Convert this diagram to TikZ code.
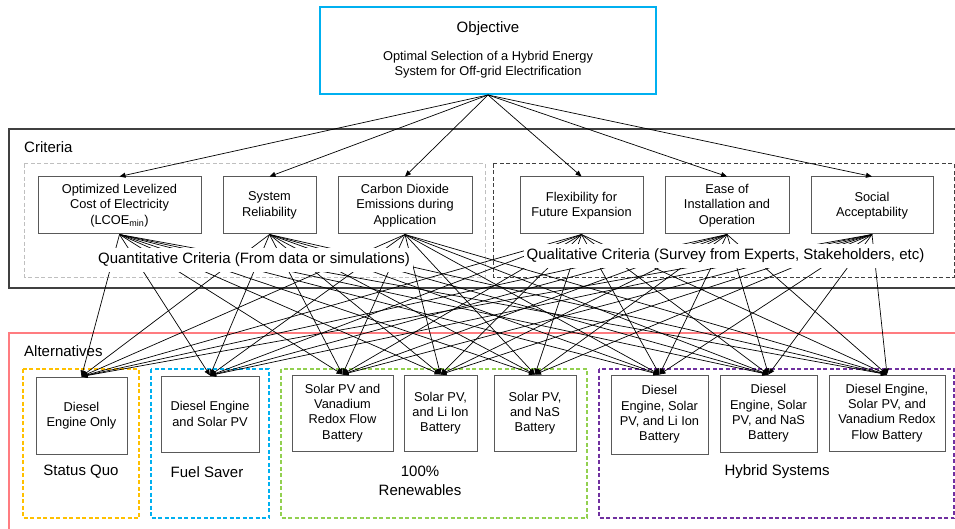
\documentclass[tikz,border=0pt]{standalone}
\usepackage{fontspec}
\setmainfont{Liberation Sans}
\usetikzlibrary{arrows.meta}
\definecolor{objblue}{HTML}{00B0F0}
\definecolor{framegray}{HTML}{404040}
\definecolor{lightdash}{HTML}{BFBFBF}
\definecolor{boxgray}{HTML}{595959}
\definecolor{altred}{HTML}{FF7C80}
\definecolor{sqorange}{HTML}{FFC000}
\definecolor{fsblue}{HTML}{00B0F0}
\definecolor{rngreen}{HTML}{92D050}
\definecolor{hypurple}{HTML}{7030A0}
\begin{document}
\begin{tikzpicture}[x=1pt,y=-1pt,
  boxtext/.style={font=\fontsize{12.8}{15.3}\selectfont, align=center},
  cbox/.style={draw=boxgray, line width=1pt, boxtext, inner sep=2pt},
  abox/.style={draw=boxgray, line width=1pt, boxtext, inner sep=2pt},
  biglabel/.style={font=\fontsize{15}{18}\selectfont, align=center},
  frame/.style={line width=2pt},
  grp/.style={line width=1.4pt, dash pattern=on 4pt off 2.5pt},
  conn/.style={line width=0.7pt, black, -{Triangle[length=6pt,width=5pt]}},
]
\useasboundingbox (0,0) rectangle (955,529);
\clip (0,0) rectangle (955,529);

% Objective
\node[draw=objblue, line width=2pt, minimum width=336, minimum height=87] (obj) at (488,50.5) {};
\node[font=\fontsize{15}{18}\selectfont] (objt) at (488,29) {Objective};
\node[boxtext] (objs) at (488,64.5) {Optimal Selection of a Hybrid Energy\\System for Off-grid Electrification};

% Criteria frame
\draw[frame, draw=framegray] (9,129) rectangle (965,288);
\node[biglabel, anchor=west, inner sep=0] (crit) at (24,147) {Criteria};
\draw[line width=1pt, draw=lightdash, dash pattern=on 4pt off 2.5pt] (24,164) rectangle (485,277);
\draw[line width=1pt, draw=framegray, dash pattern=on 4pt off 2.5pt] (493,164) rectangle (954,277);

% Criteria boxes
\node[cbox, minimum width=163, minimum height=57] (c1) at (119.5,205.5) {Optimized Levelized\\Cost of Electricity\\(LCOE\textsubscript{min})};
\node[cbox, minimum width=93, minimum height=57] (c2) at (269.5,205.5) {System\\Reliability};
\node[cbox, minimum width=134, minimum height=57] (c3) at (405,205.5) {Carbon Dioxide\\Emissions during\\Application};
\node[cbox, minimum width=123, minimum height=57] (c4) at (581.5,205.5) {Flexibility for\\Future Expansion};
\node[cbox, minimum width=124, minimum height=57] (c5) at (727,205.5) {Ease of\\Installation and\\Operation};
\node[cbox, minimum width=122, minimum height=57] (c6) at (872,205.5) {Social\\Acceptability};

% Alternatives frame
\draw[frame, draw=altred] (9,333) rectangle (965,540);
\node[biglabel, anchor=west, inner sep=0] (alt) at (24,351) {Alternatives};

% Group boxes
\draw[grp, draw=sqorange] (23,369) rectangle (139,518);
\draw[grp, draw=fsblue] (151,369) rectangle (269,518);
\draw[grp, draw=rngreen] (281,369) rectangle (587,518);
\draw[grp, draw=hypurple] (599,369) rectangle (954,518);

% Alternative boxes
\node[abox, minimum width=91, minimum height=77] (a1) at (81.5,415.5) {Diesel\\Engine Only};
\node[abox, minimum width=98, minimum height=76] (a2) at (210,414) {Diesel Engine\\and Solar PV};
\node[abox, minimum width=101, minimum height=76] (a3) at (342.5,413) {Solar PV and\\Vanadium\\Redox Flow\\Battery};
\node[abox, minimum width=73, minimum height=76] (a4) at (440.5,413) {Solar PV,\\and Li Ion\\Battery};
\node[abox, minimum width=82, minimum height=76] (a5) at (535,413) {Solar PV,\\and NaS\\Battery};
\node[abox, minimum width=97, minimum height=79] (a6) at (659.5,414.5) {Diesel\\Engine, Solar\\PV, and Li Ion\\Battery};
\node[abox, minimum width=97, minimum height=77] (a7) at (768.5,413.5) {Diesel\\Engine, Solar\\PV, and NaS\\Battery};
\node[abox, minimum width=116, minimum height=76] (a8) at (887,413) {Diesel Engine,\\Solar PV, and\\Vanadium Redox\\Flow Battery};

% Group labels
\node[biglabel] (g1) at (81,472) {Status Quo};
\node[biglabel] (g2) at (207,472) {Fuel Saver};
\node[biglabel, font=\fontsize{15}{19}\selectfont] (g3) at (420,481) {100\%\\Renewables};
\node[biglabel] (g4) at (777,472) {Hybrid Systems};

% Objective to criteria
\foreach \c in {1,...,6} {
  \draw[conn] (obj.south) -- (c\c.north);
}

% Criteria to alternatives
\foreach \c in {1,...,6} {
  \foreach \a in {1,...,8} {
    \draw[conn] (c\c.south) -- (a\a.north);
  }
}

% Group labels of criteria (cover connectors)
\node[biglabel, fill=white, inner xsep=3pt, inner ysep=5pt] (qn) at (254,260) {Quantitative Criteria (From data or simulations)};
\node[biglabel, fill=white, inner xsep=3pt, inner ysep=5pt] (ql) at (725.5,256) {Qualitative Criteria (Survey from Experts, Stakeholders, etc)};
\end{tikzpicture}
\end{document}
